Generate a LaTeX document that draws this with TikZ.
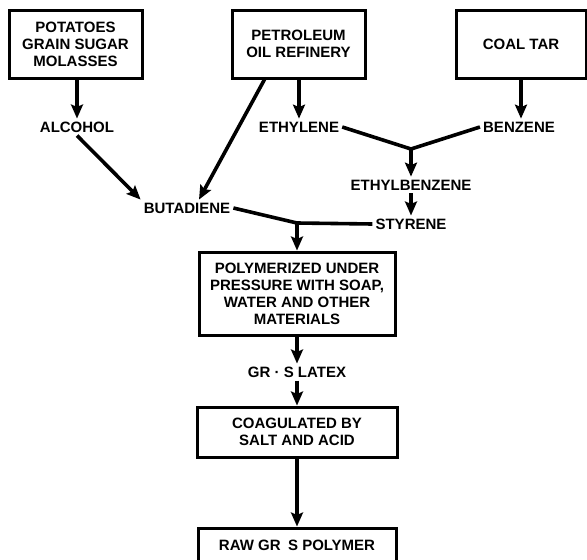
\documentclass[tikz,border=0pt]{standalone}
\usepackage{fontspec}
\setmainfont{Liberation Sans}
\usetikzlibrary{arrows.meta}

\begin{document}
\begin{tikzpicture}[x=1pt, y=-1pt,
	box/.style={draw, line width=3pt, align=center, inner sep=0pt, font=\bfseries\fontsize{15}{17}\selectfont},
	lbl/.style={inner sep=3pt, font=\bfseries\fontsize{15}{17}\selectfont},
	flow/.style={line width=3.6pt, -{Stealth[length=14pt, width=12pt, inset=2.5pt]}},
	link/.style={line width=3.6pt}]
	\useasboundingbox (0, 0) rectangle (587, 560);
	\clip (0, 0) rectangle (587, 560);
	% raw materials
	\node[box, minimum width=133pt, minimum height=68pt] (potatoes) at (75.5, 44) {POTATOES\\GRAIN SUGAR\\MOLASSES};
	\node[box, minimum width=133pt, minimum height=68pt] (refinery) at (298.5, 44) {PETROLEUM\\OIL REFINERY};
	\node[box, minimum width=130pt, minimum height=68pt] (coaltar) at (521, 44) {COAL TAR};
	% intermediates
	\node[lbl] (alcohol) at (77, 127) {ALCOHOL};
	\node[lbl] (ethylene) at (299, 127) {ETHYLENE};
	\node[lbl] (benzene) at (519, 127) {BENZENE};
	\node[lbl] (ethylbenzene) at (411, 185) {ETHYLBENZENE};
	\node[lbl] (styrene) at (411, 224) {STYRENE};
	\node[lbl] (butadiene) at (187, 208) {BUTADIENE};
	\coordinate (j1) at (411, 149);
	\coordinate (j2) at (297, 223);
	% processing
	\node[box, minimum width=196pt, minimum height=83pt] (polymerized) at (297, 293.5) {POLYMERIZED UNDER\\PRESSURE WITH SOAP,\\WATER AND OTHER\\MATERIALS};
	\node[lbl] (latex) at (297, 372) {GR \textbf{·} S LATEX};
	\node[box, minimum width=200pt, minimum height=50pt] (coagulated) at (297, 432) {COAGULATED BY\\SALT AND ACID};
	\node[box, minimum width=198pt, minimum height=34pt] (raw) at (297, 545) {RAW GR\enspace S POLYMER};
	% connectors
	\draw[flow] (potatoes.south -| alcohol.north) -- (alcohol.north);
	\draw[flow] (refinery.south -| ethylene.north) -- (ethylene.north);
	\draw[flow] (coaltar.south) -- (coaltar.south |- benzene.north);
	\draw[flow] (alcohol.south) -- (butadiene.north west);
	\draw[flow] ([xshift=34pt]refinery.south west) -- ([xshift=12pt]butadiene.north);
	\draw[link] (ethylene.east) -- (j1) -- (benzene.west);
	\draw[flow] (j1) -- (ethylbenzene.north);
	\draw[flow] (ethylbenzene.south) -- (styrene.north);
	\draw[link] (butadiene.east) -- (j2) -- (styrene.west);
	\draw[flow] (j2) -- (polymerized.north);
	\draw[flow] (polymerized.south) -- (latex.north);
	\draw[flow] (latex.south) -- (coagulated.north);
	\draw[flow] (coagulated.south) -- (raw.north);
\end{tikzpicture}
\end{document}
